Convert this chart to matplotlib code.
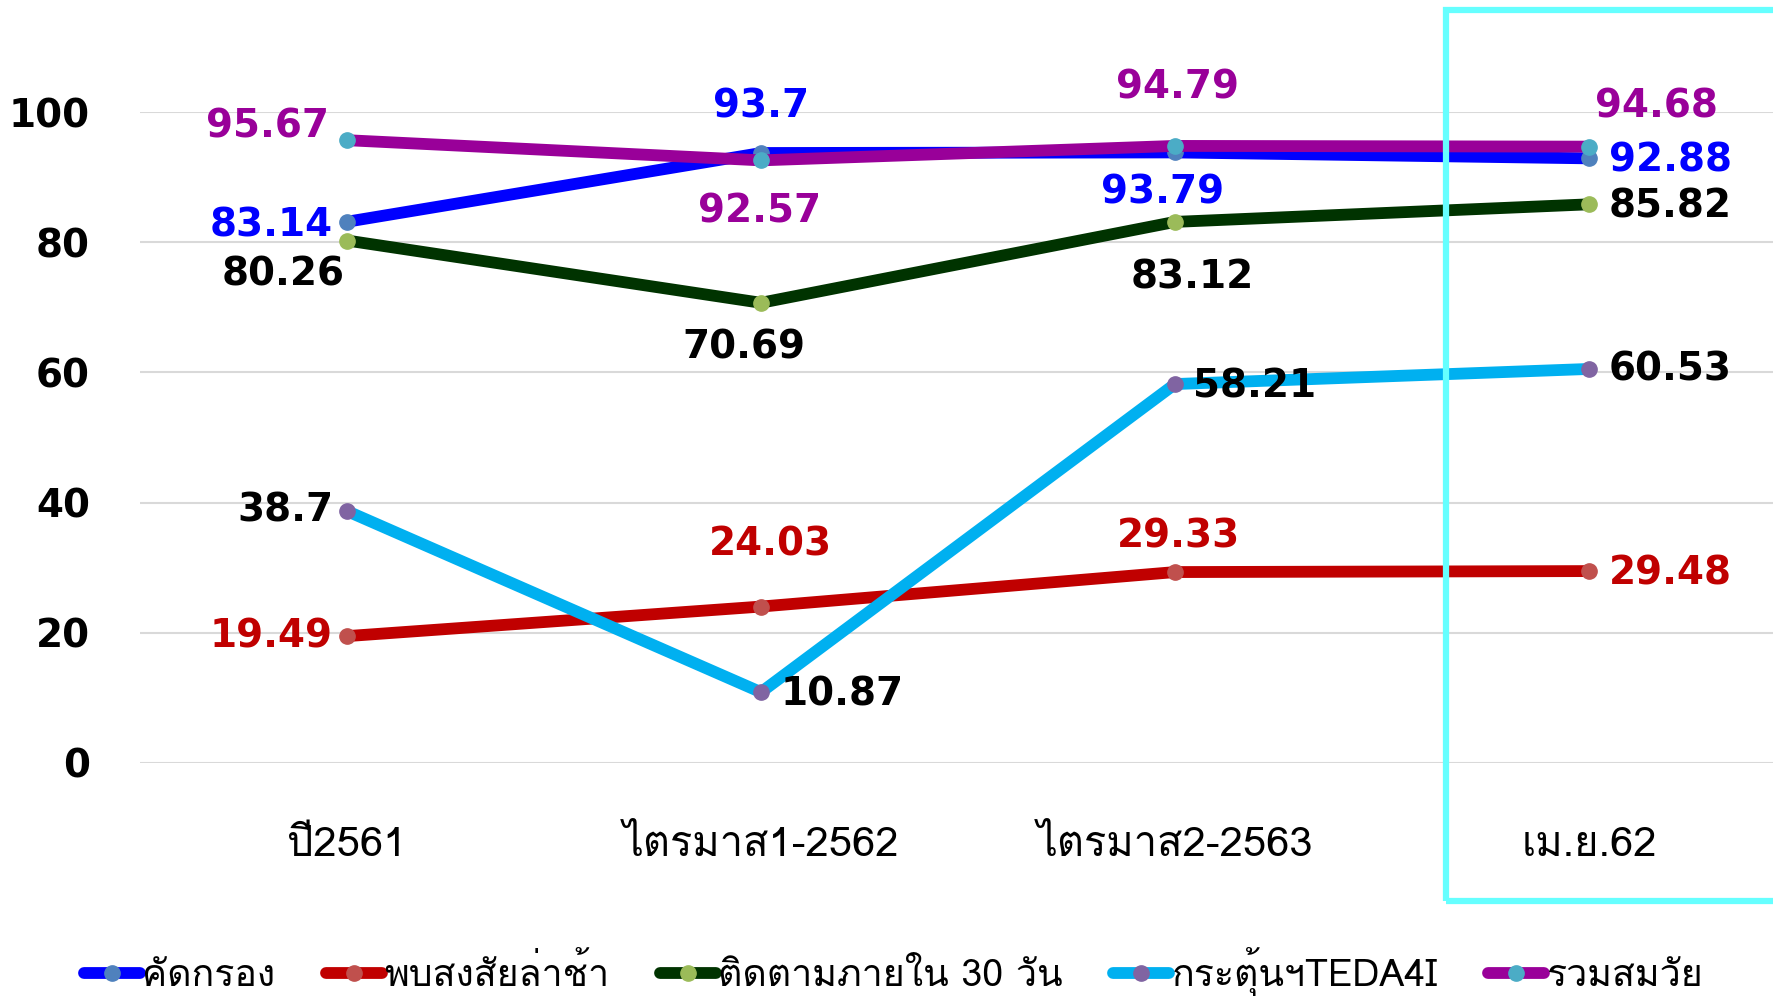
import matplotlib
matplotlib.use("Agg")
from matplotlib import pyplot as plt
from matplotlib import font_manager
from matplotlib.ft2font import FT2Font
from matplotlib.patches import Rectangle

categories = ["ปี2561", "ไตรมาส1-2562", "ไตรมาส2-2563", "เม.ย.62"]
series_names = ["คัดกรอง", "พบสงสัยล่าช้า", "ติดตามภายใน 30 วัน", "กระตุ้นฯTEDA4I", "รวมสมวัย"]
screening = [83.14, 93.7, 93.79, 92.88]
delayed = [19.49, 24.03, 29.33, 29.48]
follow_30 = [80.26, 70.69, 83.12, 85.82]
teda4i = [38.7, 10.87, 58.21, 60.53]
on_track = [95.67, 92.57, 94.79, 94.68]
y_ticks = [0, 20, 40, 60, 80, 100]


def find_thai_font():
    '''
    Look for an installed font that has Thai glyphs
    '''
    for entry in font_manager.fontManager.ttflist:
        try:
            if 0x0E01 in FT2Font(entry.fname).get_charmap():
                return entry.name
        except Exception:
            pass
    return "DejaVu Sans"


thai_font = find_thai_font()
plt.rcParams["font.family"] = [thai_font, "DejaVu Sans"]

line_colors = ["#0000FF", "#C00000", "#003300", "#00B0F0", "#990099"]
marker_colors = ["#4F81BD", "#C0504D", "#9BBB59", "#8064A2", "#4BACC6"]
label_colors = ["#0000FF", "#C00000", "#000000", "#000000", "#990099"]

# label offsets in pixels (dx, dy, ha), one row per series
offsets = [
    [(-14, -4, "right"), (0, 47, "center"), (-12, -40, "center"), (20, -2, "left")],
    [(-14, 0, "right"), (9, 62, "center"), (4, 36, "center"), (20, -2, "left")],
    [(-64, -34, "center"), (-17, -45, "center"), (17, -56, "center"), (20, -2, "left")],
    [(-14, 1, "right"), (20, -2, "left"), (18, -2, "left"), (20, -1, "left")],
    [(-80, 14, "center"), (-1, -51, "center"), (3, 58, "center"), (67, 40, "center")],
]

fig = plt.figure(figsize=(17.73, 10.06), dpi=100)
ax = fig.add_axes([140 / 1773, 243 / 1006, 1656 / 1773, 651 / 1006])
ax.set_xlim(-0.5, 3.5)
ax.set_ylim(0, 100)
ax.set_yticks(y_ticks)
ax.yaxis.grid(True, color="#D9D9D9", linewidth=1.5)
ax.set_axisbelow(True)
for spine in ax.spines.values():
    spine.set_visible(False)
ax.tick_params(length=0)
ax.set_xticks(range(len(categories)))
ax.set_xticklabels(categories, fontsize=30, family=[thai_font, "DejaVu Sans"])
for label in ax.get_xticklabels():
    label.set_verticalalignment("center")
ax.tick_params(axis="x", pad=60)
ax.tick_params(axis="y", pad=36)
for label in ax.get_yticklabels():
    label.set_fontfamily("DejaVu Sans")
    label.set_fontweight("bold")
    label.set_fontsize(28)

all_series = [screening, delayed, follow_30, teda4i, on_track]
x = list(range(len(categories)))
for i, values in enumerate(all_series):
    ax.plot(x, values, color=line_colors[i], linewidth=8.5, solid_capstyle="round",
            marker="o", markersize=11, markerfacecolor=marker_colors[i],
            markeredgecolor=marker_colors[i], label=series_names[i], zorder=3 + i)
    for j, value in enumerate(values):
        dx, dy, ha = offsets[i][j]
        ax.annotate("{:g}".format(value), (j, value), xytext=(dx, dy),
                    textcoords="offset pixels", ha=ha, va="center",
                    color=label_colors[i], fontsize=28, fontweight="bold",
                    family="DejaVu Sans", zorder=10)

fig.patches.append(Rectangle((1446 / 1773, 105 / 1006), 0.3, 891 / 1006,
                             transform=fig.transFigure, fill=False,
                             edgecolor="#66FFFF", linewidth=4.5, zorder=20))

fig.legend(loc="center", bbox_to_anchor=(0.504, 0.034), ncol=5, frameon=False,
           handlelength=1.5, handletextpad=0.05, columnspacing=1.35,
           prop={"family": [thai_font, "DejaVu Sans"], "size": 27})

fig.savefig("out.png", dpi=100)
